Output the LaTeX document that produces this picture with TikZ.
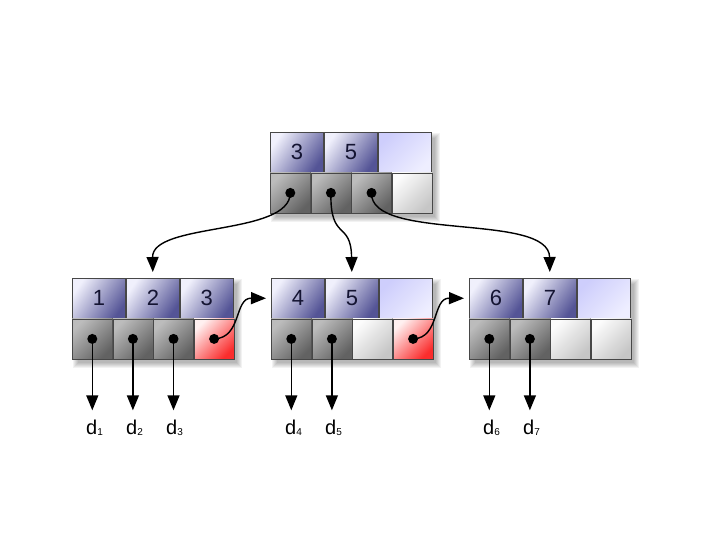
\documentclass[tikz,border=0pt]{standalone}
\usepackage{fontspec}
\setmainfont{Liberation Sans}
\usetikzlibrary{arrows.meta}
\definecolor{keylight}{RGB}{240,240,252}
\definecolor{keydark}{RGB}{84,84,150}
\definecolor{keytext}{RGB}{20,20,50}
\definecolor{emptykeya}{RGB}{206,206,252}
\definecolor{emptykeyb}{RGB}{238,238,255}
\definecolor{ptrlight}{RGB}{188,188,188}
\definecolor{ptrdark}{RGB}{98,98,98}
\definecolor{nila}{RGB}{252,252,252}
\definecolor{nilb}{RGB}{198,198,198}
\definecolor{reda}{RGB}{255,240,240}
\definecolor{redb}{RGB}{250,45,45}
\newcommand{\subidx}[1]{\raisebox{-1.5pt}{\fontsize{10}{12}\selectfont #1}}
\newcommand{\bshadow}[2]{%
  \foreach \k in {0,...,5}{%
    \fill[black,opacity=0.05] ({#1+\k+1},{#2+\k+1}) rectangle ({#1+170-\k},{#2+90-\k});}}
\tikzset{
  cell/.style={draw=black!72, line width=0.6pt, inner sep=0pt, anchor=north west,
    minimum height=40pt, font=\fontsize{22}{26}\selectfont, text=keytext},
  keycell/.style={cell, minimum width=53.33pt, top color=keylight, bottom color=keydark, shading angle=55},
  emptykey/.style={cell, minimum width=53.33pt, top color=emptykeya, bottom color=emptykeyb, shading angle=45},
  ptrcell/.style={cell, minimum width=40pt, top color=ptrlight, bottom color=ptrdark, shading angle=45},
  nilcell/.style={cell, minimum width=40pt, top color=nila, bottom color=nilb, shading angle=45},
  nextcell/.style={cell, minimum width=40pt, top color=reda, bottom color=redb, shading angle=45},
  dot/.style={circle, fill=black, minimum size=10pt, inner sep=0pt},
  link/.style={-{Triangle[width=12pt,length=15pt]}, line width=1.4pt, black},
  lab/.style={inner sep=0pt, anchor=base west, font=\fontsize{20}{24}\selectfont}
}
\begin{document}
\begin{tikzpicture}[x=1pt,y=-1pt]
\fill[white] (0,0) rectangle (720,540);
\useasboundingbox (0,0) rectangle (720,540);
% shadows
\bshadow{270}{132}
\bshadow{72}{278}
\bshadow{271}{278}
\bshadow{469}{278}
% root
\node[keycell] (rk1) at (270,132) {3};
\node[keycell] (rk2) at (rk1.north east) {5};
\node[emptykey] (rk3) at (rk2.north east) {};
\node[ptrcell] (rp1) at (rk1.south west) {};
\node[ptrcell] (rp2) at (rp1.north east) {};
\node[ptrcell] (rp3) at (rp2.north east) {};
\node[nilcell] (rp4) at (rp3.north east) {};
% left leaf
\node[keycell] (lk1) at (72,278) {1};
\node[keycell] (lk2) at (lk1.north east) {2};
\node[keycell] (lk3) at (lk2.north east) {3};
\node[ptrcell] (lp1) at (lk1.south west) {};
\node[ptrcell] (lp2) at (lp1.north east) {};
\node[ptrcell] (lp3) at (lp2.north east) {};
\node[nextcell] (lp4) at (lp3.north east) {};
% middle leaf
\node[keycell] (mk1) at (271,278) {4};
\node[keycell] (mk2) at (mk1.north east) {5};
\node[emptykey] (mk3) at (mk2.north east) {};
\node[ptrcell] (mp1) at (mk1.south west) {};
\node[ptrcell] (mp2) at (mp1.north east) {};
\node[nilcell] (mp3) at (mp2.north east) {};
\node[nextcell] (mp4) at (mp3.north east) {};
% right leaf
\node[keycell] (nk1) at (469,278) {6};
\node[keycell] (nk2) at (nk1.north east) {7};
\node[emptykey] (nk3) at (nk2.north east) {};
\node[ptrcell] (np1) at (nk1.south west) {};
\node[ptrcell] (np2) at (np1.north east) {};
\node[nilcell] (np3) at (np2.north east) {};
\node[nilcell] (np4) at (np3.north east) {};
% dots
\node[dot] (rd1) at (rp1.center) {};
\node[dot] (rd2) at (rp2.center) {};
\node[dot] (rd3) at (rp3.center) {};
\node[dot] (ld1) at (lp1.center) {};
\node[dot] (ld2) at (lp2.center) {};
\node[dot] (ld3) at (lp3.center) {};
\node[dot] (ld4) at (lp4.center) {};
\node[dot] (md1) at (mp1.center) {};
\node[dot] (md2) at (mp2.center) {};
\node[dot] (md4) at (mp4.center) {};
\node[dot] (nd1) at (np1.center) {};
\node[dot] (nd2) at (np2.center) {};
% data labels
\node[lab] (d1) at (86,434) {d\subidx{1}};
\node[lab] (d2) at (126,434) {d\subidx{2}};
\node[lab] (d3) at (166,434) {d\subidx{3}};
\node[lab] (d4) at (285,434) {d\subidx{4}};
\node[lab] (d5) at (325,434) {d\subidx{5}};
\node[lab] (d6) at (483,434) {d\subidx{6}};
\node[lab] (d7) at (523,434) {d\subidx{7}};
% root links
\draw[link, shorten >=6pt] (rd1.center) .. controls (290,236) and (152,222) .. (lk2.north);
\draw[link, shorten >=6pt] (rd2.center) .. controls (330,242) and (351,220) .. (mk2.north);
\draw[link, shorten >=6pt] (rd3.center) .. controls (370,242) and (549,212) .. (nk2.north);
% sibling links
\draw[link, shorten >=5pt] (ld4.center) .. controls (242,338) and (234,298) .. (mk1.west);
\draw[link, shorten >=5pt] (md4.center) .. controls (440,338) and (432,298) .. (nk1.west);
% data links
\draw[link, shorten >=9pt] (ld1.center) -- (ld1.center |- d1.north);
\draw[link, shorten >=9pt] (ld2.center) -- (ld2.center |- d2.north);
\draw[link, shorten >=9pt] (ld3.center) -- (ld3.center |- d3.north);
\draw[link, shorten >=9pt] (md1.center) -- (md1.center |- d4.north);
\draw[link, shorten >=9pt] (md2.center) -- (md2.center |- d5.north);
\draw[link, shorten >=9pt] (nd1.center) -- (nd1.center |- d6.north);
\draw[link, shorten >=9pt] (nd2.center) -- (nd2.center |- d7.north);
\end{tikzpicture}
\end{document}
